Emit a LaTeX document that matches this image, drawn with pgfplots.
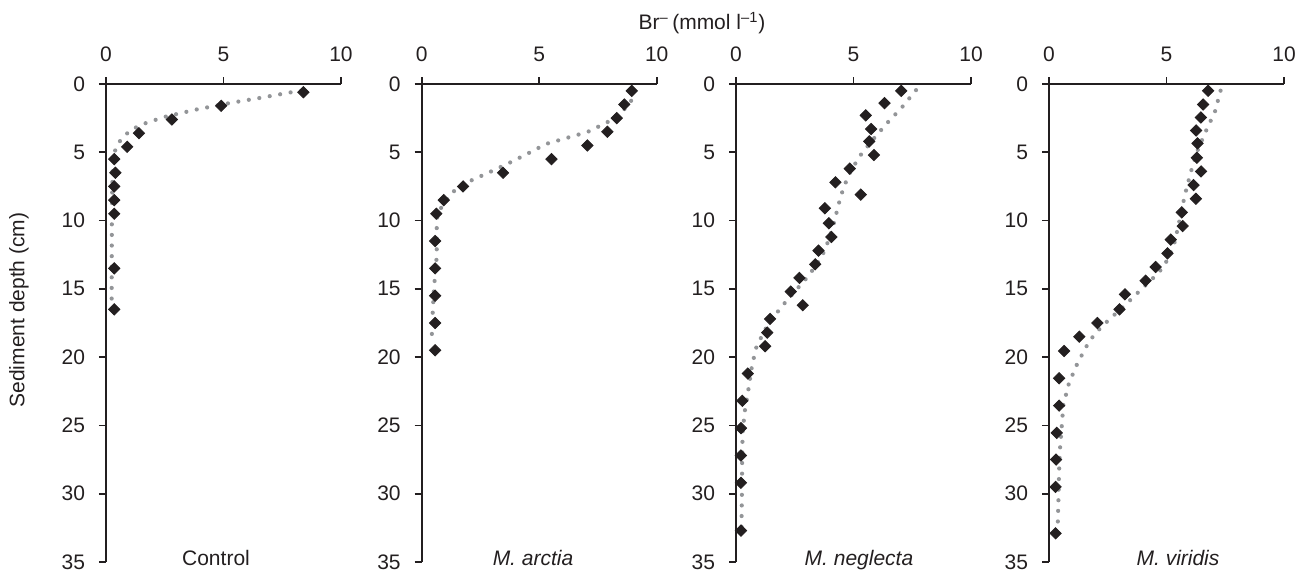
\documentclass[border=0pt]{standalone}
\usepackage{fontspec}
\setmainfont{Liberation Sans}
\usepackage{pgfplots}
\pgfplotsset{compat=1.18}

\definecolor{ink}{HTML}{231F20}
\definecolor{dotgray}{HTML}{939598}
\newcommand{\fs}{\fontsize{10.5}{12.6}\selectfont}

\pgfplotsset{
  panel/.style={
    at={(#1,-42pt)}, anchor=north west,
    scale only axis, width=117.5pt, height=239pt,
    xmin=0, xmax=10, ymin=0, ymax=35, y dir=reverse,
    axis x line=top, axis y line=left,
    axis line style={-, ink, line width=1pt},
    xtick={0,5,10}, ytick={0,5,...,35},
    tick align=outside, major tick length=3.5pt,
    every tick/.style={ink, line width=0.8pt},
    ticklabel style={font=\fs, text=ink},
    /pgf/number format/assume math mode=true,
    xticklabel shift=4pt, yticklabel shift=3.5pt,
    clip=false,
  },
  fit/.style={dotgray, line width=2.1pt, line cap=round, dash pattern=on 0pt off 5.3pt},
  obs/.style={only marks, mark=square*, mark size=2pt,
    mark options={rotate=45, fill=ink, draw=ink}},
}

\begin{document}
\begin{tikzpicture}[font=\fs]
\useasboundingbox (0,0) rectangle (655pt,-288.5pt);

% Control
\begin{axis}[panel=53pt]
\addplot[fit] coordinates {(8.3,0.5) (7.9,0.6) (6.55,1.02) (5.18,1.42) (3.81,1.88) (2.46,2.42) (1.58,2.93) (1.17,3.27) (0.81,3.73) (0.52,4.34) (0.34,5.07) (0.28,5.88) (0.25,10) (0.24,16.4)};
\addplot[obs] coordinates {(8.4,0.6) (4.9,1.6) (2.8,2.6) (1.4,3.6) (0.9,4.6) (0.35,5.5) (0.4,6.5) (0.35,7.5) (0.35,8.5) (0.35,9.5) (0.35,13.5) (0.35,16.5)};
\end{axis}

% M. arctia
\begin{axis}[panel=210.85pt]
\addplot[fit] coordinates {(9.05,0.5) (8.94,1.17) (8.62,1.85) (7.9,2.8) (7.06,3.51) (6.17,3.95) (5.29,4.39) (4.45,5.15) (3.63,5.86) (2.78,6.54) (1.93,7.2) (1.53,7.52) (1.23,8.15) (0.96,8.7) (0.68,9.47) (0.64,10.2) (0.64,12.6) (0.52,15.0) (0.45,17.4) (0.42,19.0)};
\addplot[obs] coordinates {(8.94,0.5) (8.62,1.5) (8.3,2.5) (7.9,3.5) (7.05,4.5) (5.52,5.5) (3.46,6.5) (1.76,7.5) (0.94,8.5) (0.62,9.5) (0.57,11.5) (0.57,13.5) (0.57,15.5) (0.57,17.5) (0.57,19.5)};
\end{axis}

% M. neglecta
\begin{axis}[panel=368pt]
\addplot[fit] coordinates {(7.66,0.45) (7.06,1.71) (6.42,2.88) (5.81,4.1) (5.24,5.34) (4.77,6.73) (4.46,8.2) (4.23,9.74) (4.12,10.5) (3.82,12.0) (3.61,12.76) (3.08,14.06) (2.16,15.86) (1.85,16.5) (1.31,17.77) (0.88,19.18) (0.77,19.96) (0.67,20.74) (0.53,22.33) (0.38,23.9) (0.28,25.5) (0.26,27.9) (0.25,30.3) (0.23,32.65)};
\addplot[obs] coordinates {(7.03,0.5) (6.32,1.4) (5.52,2.3) (5.75,3.3) (5.67,4.2) (5.87,5.2) (4.84,6.2) (4.23,7.2) (5.31,8.1) (3.78,9.1) (3.95,10.2) (4.06,11.2) (3.51,12.2) (3.37,13.2) (2.7,14.2) (2.33,15.2) (2.84,16.2) (1.45,17.2) (1.33,18.2) (1.24,19.2) (0.5,21.2) (0.27,23.2) (0.21,25.2) (0.21,27.2) (0.21,29.2) (0.21,32.7)};
\end{axis}

% M. viridis
\begin{axis}[panel=524.5pt]
\addplot[fit] coordinates {(7.3,0.49) (7.06,2.03) (6.67,3.47) (6.3,4.95) (6.03,6.47) (5.8,8.0) (5.7,8.78) (5.52,10.27) (5.31,11.83) (4.91,13.3) (4.6,13.93) (3.93,15.03) (3.24,16.18) (2.57,17.23) (2.22,17.81) (1.92,18.37) (1.65,19.03) (1.21,20.45) (0.85,21.9) (0.61,23.5) (0.54,25.1) (0.47,26.67) (0.43,28.26) (0.41,29.85) (0.37,32.4)};
\addplot[obs] coordinates {(6.77,0.5) (6.56,1.5) (6.46,2.45) (6.26,3.4) (6.32,4.35) (6.29,5.4) (6.47,6.4) (6.15,7.4) (6.25,8.4) (5.65,9.4) (5.69,10.4) (5.18,11.4) (5.04,12.4) (4.54,13.4) (4.11,14.4) (3.23,15.4) (3.0,16.5) (2.06,17.5) (1.29,18.5) (0.64,19.55) (0.43,21.55) (0.43,23.55) (0.33,25.55) (0.3,27.5) (0.28,29.5) (0.28,32.9)};
\end{axis}

\node[text=ink, anchor=base] at (351pt,-15pt) {Br\textsuperscript{–}\,(mmol l\textsuperscript{–1})};
\node[text=ink, rotate=90] at (9.5pt,-155pt) {Sediment depth (cm)};
\node[text=ink, anchor=base] at (108pt,-282.5pt) {Control};
\node[text=ink, anchor=base] at (266.5pt,-282.5pt) {\itshape M. arctia};
\node[text=ink, anchor=base] at (429.5pt,-282.5pt) {\itshape M. neglecta};
\node[text=ink, anchor=base] at (589pt,-282.5pt) {\itshape M. viridis};
\end{tikzpicture}
\end{document}
